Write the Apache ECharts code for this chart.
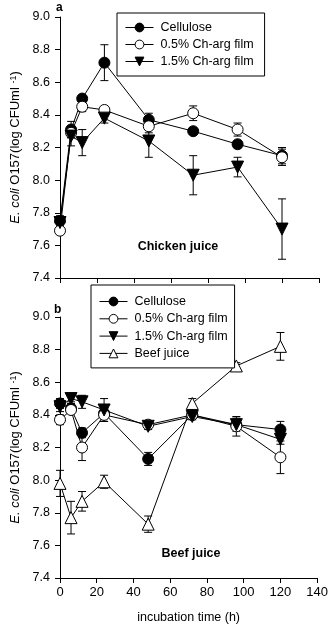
<!DOCTYPE html>
<html>
<head>
<meta charset="utf-8">
<script src="https://cdn.jsdelivr.net/npm/echarts@6/dist/echarts.min.js"></script>
<style>
html,body{margin:0;padding:0;background:#fff;}
#chart{width:331px;height:627px;}
</style>
</head>
<body>
<div id="chart"></div>
<script>
// ---- data ----
const times = [0, 6, 12, 24, 48, 72, 96, 120];
const yTicksMin = 7.4, yTicksMax = 9.0, yTickStep = 0.2;
const xTicksMin = 0, xTicksMax = 140, xTickStep = 20;
const seriesNames = ['Cellulose', '0.5% Ch-arg film', '1.5% Ch-arg film', 'Beef juice'];

// Panel a: chicken juice
const aCellulose    = [7.75, 8.31, 8.50, 8.72, 8.37, 8.30, 8.22, 8.15];
const aCelluloseErr = [0.03, 0.05, 0.02, 0.11, 0.04, 0.02, 0.02, 0.05];
const aFilm05       = [7.69, 8.29, 8.45, 8.43, 8.33, 8.41, 8.31, 8.14];
const aFilm05Err    = [0.02, 0.03, 0.03, 0.02, 0.04, 0.045, 0.04, 0.05];
const aFilm15       = [7.74, 8.27, 8.23, 8.38, 8.24, 8.03, 8.08, 7.70];
const aFilm15Err    = [0.04, 0.06, 0.08, 0.03, 0.10, 0.12, 0.06, 0.185];

// Panel b: beef juice
const bCellulose    = [8.47, 8.44, 8.29, 8.41, 8.13, 8.40, 8.34, 8.31];
const bCelluloseErr = [0.03, 0.03, 0.03, 0.03, 0.04, 0.02, 0.04, 0.05];
const bFilm05       = [8.37, 8.43, 8.20, 8.40, 8.34, 8.40, 8.33, 8.14];
const bFilm05Err    = [0.03, 0.02, 0.08, 0.04, 0.02, 0.02, 0.06, 0.10];
const bFilm15       = [8.45, 8.50, 8.48, 8.43, 8.33, 8.39, 8.34, 8.25];
const bFilm15Err    = [0.03, 0.02, 0.04, 0.07, 0.02, 0.02, 0.03, 0.03];
const bBeef         = [7.98, 7.77, 7.87, 7.99, 7.73, 8.47, 8.70, 8.82];
const bBeefErr      = [0.08, 0.10, 0.06, 0.04, 0.05, 0.03, 0.02, 0.085];

// ---- build ----
const FONT = '"Liberation Sans", Arial, sans-serif';
const pairs = (vals) => times.map((t, i) => [t, vals[i]]);
const errData = (vals, errs) => times.map((t, i) => [t, vals[i] - errs[i], vals[i] + errs[i]]);

const styles = {
  'Cellulose': { symbol: 'circle', symbolRotate: 0, fill: '#000' },
  '0.5% Ch-arg film': { symbol: 'circle', symbolRotate: 0, fill: '#fff' },
  '1.5% Ch-arg film': { symbol: 'triangle', symbolRotate: 180, fill: '#000' },
  'Beef juice': { symbol: 'triangle', symbolRotate: 0, fill: '#fff' }
};

function lineSeries(name, vals, gi) {
  const s = styles[name];
  return {
    name: name, type: 'line', xAxisIndex: gi, yAxisIndex: gi,
    data: pairs(vals),
    symbol: s.symbol, symbolRotate: s.symbolRotate,
    symbolSize: s.symbol === 'circle' ? 11 : 12,
    showAllSymbol: true,
    lineStyle: { color: '#000', width: 1 },
    itemStyle: { color: s.fill, borderColor: '#000', borderWidth: 1 },
    emphasis: { disabled: true },
    z: 3, animation: false
  };
}

function errSeries(id, vals, errs, gi) {
  return {
    name: id, type: 'custom', xAxisIndex: gi, yAxisIndex: gi,
    data: errData(vals, errs),
    clip: false, z: 2, animation: false,
    renderItem: function (params, api) {
      const x = api.value(0);
      const lo = api.coord([x, api.value(1)]);
      const hi = api.coord([x, api.value(2)]);
      const hw = 4;
      const st = { stroke: '#000', lineWidth: 1 };
      return {
        type: 'group',
        children: [
          { type: 'line', shape: { x1: lo[0], y1: lo[1], x2: hi[0], y2: hi[1] }, style: st },
          { type: 'line', shape: { x1: lo[0] - hw, y1: lo[1], x2: lo[0] + hw, y2: lo[1] }, style: st },
          { type: 'line', shape: { x1: hi[0] - hw, y1: hi[1], x2: hi[0] + hw, y2: hi[1] }, style: st }
        ]
      };
    }
  };
}

const axisCommon = {
  axisLine: { show: true, onZero: false, lineStyle: { color: '#000', width: 1 } },
  axisTick: { show: true, inside: false, length: 5, lineStyle: { color: '#000', width: 1 } },
  splitLine: { show: false }
};

function xAxis(gi, showLabels) {
  return Object.assign({}, axisCommon, {
    type: 'value', gridIndex: gi, min: xTicksMin, max: xTicksMax, interval: xTickStep,
    axisLabel: { show: showLabels, color: '#000', fontFamily: FONT, fontSize: 13, margin: 8 },
    name: showLabels ? 'incubation time (h)' : '',
    nameLocation: 'middle', nameGap: 33,
    nameTextStyle: { color: '#000', fontFamily: FONT, fontSize: 12.5 }
  });
}

function yAxis(gi) {
  return Object.assign({}, axisCommon, {
    type: 'value', gridIndex: gi, min: yTicksMin, max: yTicksMax, interval: yTickStep,
    axisLabel: { color: '#000', fontFamily: FONT, fontSize: 12.5, margin: 10,
      formatter: (v) => v.toFixed(1) },
    name: '{i|E. coli} O157(log CFUml {s|-1})',
    nameLocation: 'middle', nameRotate: 90, nameGap: 38,
    nameTextStyle: {
      color: '#000', fontFamily: FONT, fontSize: 13,
      rich: {
        i: { fontStyle: 'italic', fontFamily: FONT, fontSize: 13, color: '#000' },
        s: { fontFamily: FONT, fontSize: 9, color: '#000', verticalAlign: 'top' }
      }
    }
  });
}

const legendCommon = {
  orient: 'vertical',
  borderColor: '#000', borderWidth: 1, backgroundColor: '#fff',
  itemWidth: 28, itemHeight: 11,
  lineStyle: { width: 1, color: '#000' },
  itemStyle: { borderWidth: 1, borderColor: '#000' },
  textStyle: { color: '#000', fontFamily: FONT, fontSize: 12.5, padding: [0, 0, 0, 2] },
  selectedMode: false
};

const option = {
  backgroundColor: '#fff',
  animation: false,
  grid: [
    { left: 60, top: 17, width: 259, height: 261 },
    { left: 60, top: 317, width: 259, height: 261 }
  ],
  xAxis: [xAxis(0, false), xAxis(1, true)],
  yAxis: [yAxis(0), yAxis(1)],
  legend: [
    Object.assign({}, legendCommon, { left: 117, top: 13, padding: [8, 11, 8, 8], itemGap: 4,
      data: seriesNames.slice(0, 3) }),
    Object.assign({}, legendCommon, { left: 91, top: 285, padding: [10, 7, 8, 8], itemGap: 4.3,
      data: seriesNames.slice(0, 4) })
  ],
  graphic: [
    { type: 'text', left: 56, top: 2, style: { text: 'a', font: 'bold 12px ' + FONT, fill: '#000' } },
    { type: 'text', left: 54, top: 304, style: { text: 'b', font: 'bold 12px ' + FONT, fill: '#000' } },
    { type: 'text', x: 178, y: 247, style: { text: 'Chicken juice', font: 'bold 12.5px ' + FONT, fill: '#000', align: 'center', verticalAlign: 'middle' } },
    { type: 'text', x: 191, y: 554, style: { text: 'Beef juice', font: 'bold 12.5px ' + FONT, fill: '#000', align: 'center', verticalAlign: 'middle' } }
  ],
  series: [
    errSeries('err-a-c', aCellulose, aCelluloseErr, 0),
    errSeries('err-a-05', aFilm05, aFilm05Err, 0),
    errSeries('err-a-15', aFilm15, aFilm15Err, 0),
    lineSeries('Cellulose', aCellulose, 0),
    lineSeries('0.5% Ch-arg film', aFilm05, 0),
    lineSeries('1.5% Ch-arg film', aFilm15, 0),
    errSeries('err-b-c', bCellulose, bCelluloseErr, 1),
    errSeries('err-b-05', bFilm05, bFilm05Err, 1),
    errSeries('err-b-15', bFilm15, bFilm15Err, 1),
    errSeries('err-b-beef', bBeef, bBeefErr, 1),
    lineSeries('Cellulose', bCellulose, 1),
    lineSeries('0.5% Ch-arg film', bFilm05, 1),
    lineSeries('1.5% Ch-arg film', bFilm15, 1),
    lineSeries('Beef juice', bBeef, 1)
  ]
};

const chart = echarts.init(document.getElementById('chart'), null, { renderer: 'canvas' });
chart.setOption(option);
</script>
</body>
</html>
